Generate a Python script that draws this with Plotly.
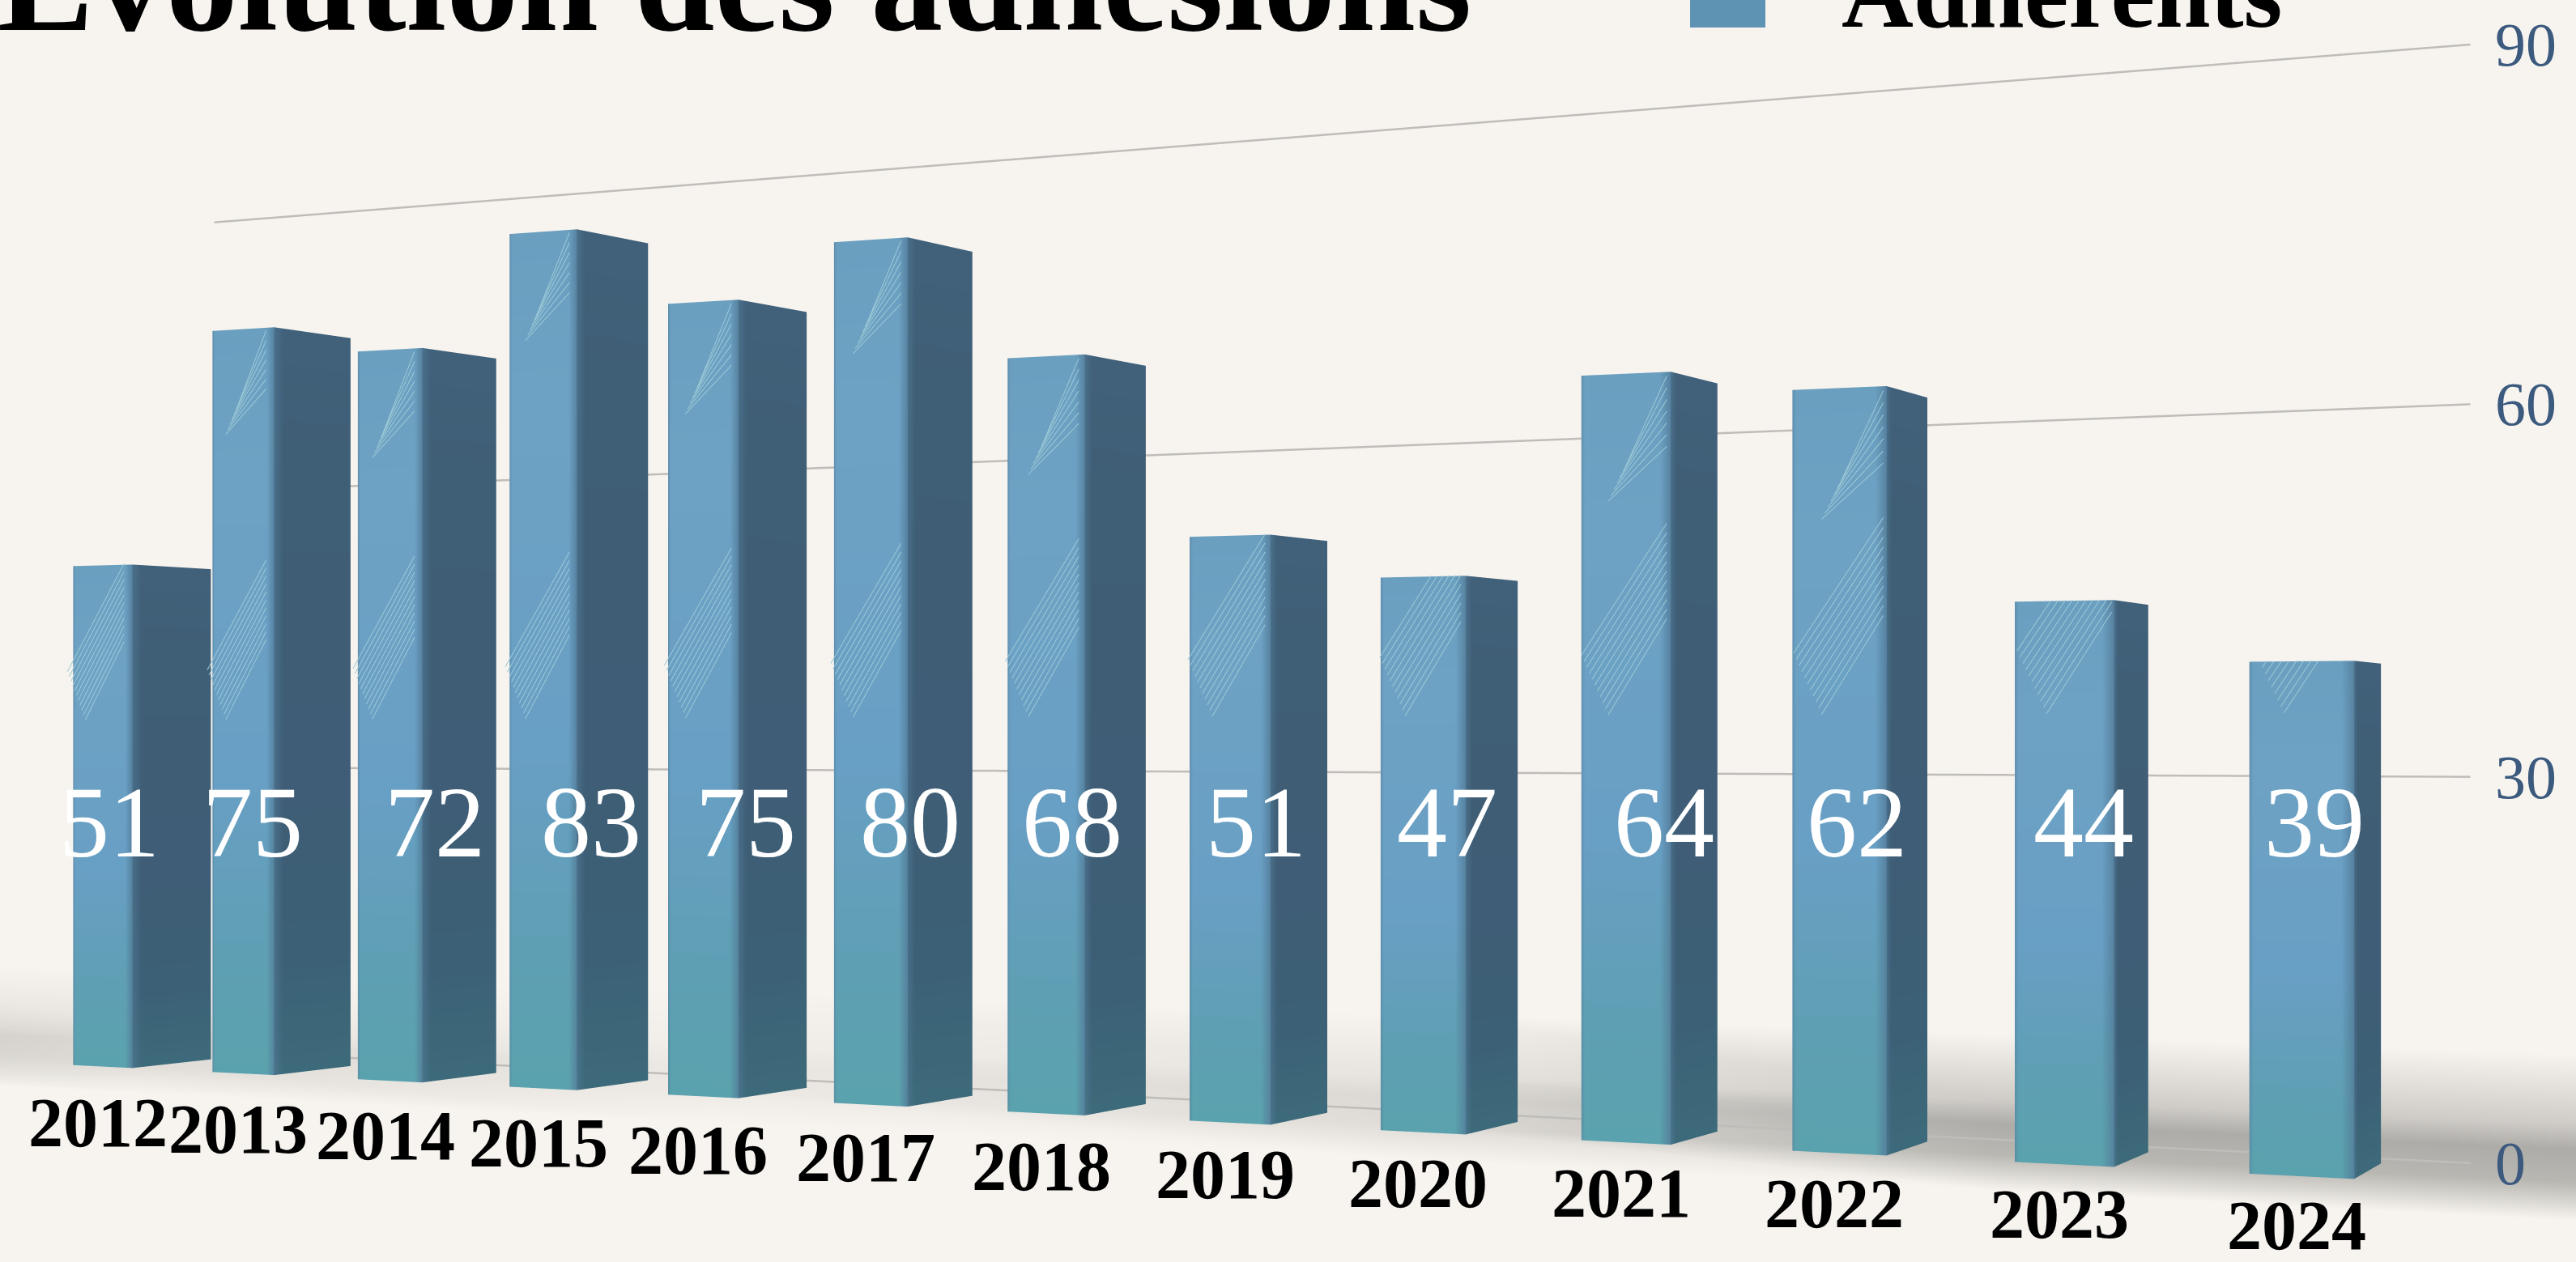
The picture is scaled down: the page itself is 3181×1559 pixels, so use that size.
import math
import plotly.graph_objects as go

# ---------- data ----------
years = ["2012","2013","2014","2015","2016","2017","2018","2019","2020","2021","2022","2023","2024"]
adherents = [51,75,72,83,75,80,68,51,47,64,62,44,39]
y_ticks = [0,30,60,90]
title_text = "Évolution des adhésions"
legend_text = "Adhérents"

# ---------- colours ----------
PAPER = "#f7f4ef"
GRID = "#bfbdb9"
TICK = "#3c5a7e"
FRONT_ROWS = ["#5aa2ad", "#5f9fb4", "#689fc4", "#6ea2c4", "#6a9fc0"]
SIDE_ROWS = ["#3d6a7a", "#3c6076", "#3f5d76", "#3f5f76", "#41607a"]
EDGE = "#557f9c"
STREAK = "#9cc9d6"
ROW_FRACS = [0.0, 0.16, 0.38, 0.8, 1.0]

# ---------- camera model (units: one value unit in the scene) ----------
FOCAL_PX = 1559 / 2 / math.tan(math.pi / 8)     # plotly's fixed 45 degree fov
DEPTH0, DEPTH_STEP = 157.6, 3.25                # distance of first bar, change per category
LEFT0 = -125.3                                  # lateral position of first bar
CAT_DX = 16.66                                  # lateral change per category
EYE_Z = 32.8
HORIZON_PX = 916                                # page row of the horizon
TAN_PITCH = (HORIZON_PX - 1559 / 2) / FOCAL_PX
phi = math.atan2(DEPTH_STEP, CAT_DX)
CAT = math.hypot(DEPTH_STEP, CAT_DX)
cos_p, sin_p = math.cos(phi), math.sin(phi)
eye_cat = (-LEFT0 * cos_p + DEPTH0 * sin_p) / CAT
eye_y = -LEFT0 * sin_p - DEPTH0 * cos_p

X_RANGE, Y_RANGE, Z_RANGE = [-4, 16], [-10, 30], [-20, 100]
UNIT = 0.01
def nx(v): return (v - sum(X_RANGE) / 2) * CAT * UNIT
def ny(v): return (v - sum(Y_RANGE) / 2) * UNIT
def nz(v): return (v - sum(Z_RANGE) / 2) * UNIT

def upright(x, y, z):
    """Keep verticals vertical on the page although the camera looks slightly upwards."""
    lateral = LEFT0 + x * CAT * cos_p + y * sin_p
    depth = DEPTH0 - x * CAT * sin_p + y * cos_p
    shift = lateral * (z - EYE_Z) * TAN_PITCH / depth
    return x + shift * cos_p / CAT, y + shift * sin_p, z

# bar geometry
BAR_W = 0.43        # category units
BAR_SHEAR = 0.245   # category units; back face offset
BAR_D = 5.1
GRID_X = [0.48, 13.09]
GRID_Y = [8.7, 6.6]
SHADOW_Y = 10.0
LABEL_PX = 1015     # vertical page position of the value labels
LABEL_NUDGE = [8, 12, 55, 59, 53, 49, 32, 32, 30, 47, 22, 24, 16]

def hexrgb(c):
    return tuple(int(c[i:i+2], 16) for i in (1, 3, 5))
def mix(a, b, t):
    pa, pb = hexrgb(a), hexrgb(b)
    return "#%02x%02x%02x" % tuple(round(p + (q - p) * t) for p, q in zip(pa, pb))

vx, vy, vz, vc, fi, fj, fk = [], [], [], [], [], [], []
def grid(points, colours):
    """points/colours: rows of columns"""
    base = len(vx)
    nr, nc = len(points), len(points[0])
    for r in range(nr):
        for c in range(nc):
            p = upright(*points[r][c])
            vx.append(p[0]); vy.append(p[1]); vz.append(p[2]); vc.append(colours[r][c])
    for r in range(nr - 1):
        for c in range(nc - 1):
            a = base + r * nc + c
            b, d, e = a + 1, a + nc, a + nc + 1
            fi.extend([a, a]); fj.extend([b, e]); fk.extend([e, d])

st_x, st_y, st_z = [], [], []
def streak(i, v, u0, z0, u1, z1):
    """one light brush line on the front face of bar i, clipped to the bar top"""
    if z0 >= v:
        return
    if z1 > v:
        u1 = u0 + (u1 - u0) * (v - z0) / (z1 - z0)
        z1 = v
    for u, z in ((u0, z0), (u1, z1)):
        p = upright(i + BAR_W * u, -0.6, z)
        st_x.append(p[0]); st_y.append(p[1]); st_z.append(p[2])
    st_x.append(None); st_y.append(None); st_z.append(None)

for i, v in enumerate(adherents):
    x0, x1 = i, i + BAR_W
    # front
    cols = [0.0, 0.04, 0.88, 1.0]
    pts = [[(x0 + (x1 - x0) * u, 0, v * f) for u in cols] for f in ROW_FRACS]
    clr = [[mix(FRONT_ROWS[r], EDGE, 0.5), FRONT_ROWS[r], FRONT_ROWS[r], mix(FRONT_ROWS[r], EDGE, 0.9)]
           for r in range(len(ROW_FRACS))]
    grid(pts, clr)
    # side
    cols = [0.0, 0.12, 1.0]
    pts = [[(x1 + BAR_SHEAR * u, BAR_D * u, v * f) for u in cols] for f in ROW_FRACS]
    clr = [[mix(SIDE_ROWS[r], EDGE, 0.5), SIDE_ROWS[r], SIDE_ROWS[r]] for r in range(len(ROW_FRACS))]
    grid(pts, clr)
    # top
    pts = [[(x0, 0, v), (x1, 0, v)], [(x0 + BAR_SHEAR, BAR_D, v), (x1 + BAR_SHEAR, BAR_D, v)]]
    grid(pts, [["#5e93b4", "#5e93b4"], ["#4d7f9e", "#4d7f9e"]])
    # brush-stroke patch above the V tip
    for k in range(11):
        t = k / 10
        streak(i, v, 0.3 * (1 - t), 35 + 5 * t, 0.95, 43 + 8 * t)
    # brush-stroke patch below the top of tall bars
    if v > 58:
        for k in range(7):
            t = k / 6
            streak(i, v, 0.3 + 0.2 * t, v - 11 + 3 * t, 0.95, v - 6.5 + 6 * t)

bars = go.Mesh3d(x=vx, y=vy, z=vz, i=fi, j=fj, k=fk, vertexcolor=vc, flatshading=False,
                 lighting=dict(ambient=1, diffuse=0, specular=0, roughness=1, fresnel=0),
                 hoverinfo="skip", showscale=False, name=legend_text)
streaks = go.Scatter3d(x=st_x, y=st_y, z=st_z, mode="lines", line=dict(color=STREAK, width=2),
                       hoverinfo="skip", showlegend=False)

# floor shadow: a soft band behind the bars
SHADOW_X = [-4, 0, 4, 8, 11, 16]
SHADOW_K = [0.55, 0.3, 0.12, 0.3, 0.8, 0.8]
SHADOW_Z = [-5.0, -2.0, 0.5, 2.5, 8.0]
SHADOW_P = [0.0, 0.85, 1.0, 0.55, 0.0]
sx, sy, sz, sc, si, sj, sk = [], [], [], [], [], [], []
for a, k in zip(SHADOW_X, SHADOW_K):
    for z, p in zip(SHADOW_Z, SHADOW_P):
        sx.append(a); sy.append(SHADOW_Y); sz.append(z)
        sc.append(mix(PAPER, "#9c9a96", k * p))
nr = len(SHADOW_Z)
for c in range(len(SHADOW_X) - 1):
    for r in range(nr - 1):
        a = c * nr + r
        si.extend([a, a + 1]); sj.extend([a + nr, a + nr]); sk.extend([a + 1, a + nr + 1])
shadow = go.Mesh3d(x=sx, y=sy, z=sz, i=si, j=sj, k=sk, vertexcolor=sc,
                   lighting=dict(ambient=1, diffuse=0, specular=0, roughness=1, fresnel=0),
                   hoverinfo="skip", showscale=False)

grid_x, grid_y, grid_z = [], [], []
for t in y_ticks:
    a = upright(GRID_X[0], GRID_Y[0], t)
    b = upright(GRID_X[1], GRID_Y[1], t)
    grid_x += [a[0], b[0], None]
    grid_y += [a[1], b[1], None]
    grid_z += [t, t, None]
gridlines = go.Scatter3d(x=grid_x, y=grid_y, z=grid_z, mode="lines",
                         line=dict(color=GRID, width=5), hoverinfo="skip", showlegend=False)

annotations3d = []
for t in y_ticks:
    px, py, pz = upright(GRID_X[1], GRID_Y[1], t)
    annotations3d.append(dict(x=px, y=py, z=pz, text=str(t), showarrow=False,
                              xanchor="left", yanchor="middle", xshift=28,
                              font=dict(family="Liberation Serif", size=76, color=TICK)))
for i, (yr, v) in enumerate(zip(years, adherents)):
    depth = DEPTH0 - DEPTH_STEP * i
    z_lab = EYE_Z - (LABEL_PX - HORIZON_PX) * depth / FOCAL_PX
    px, py, pz = upright(i + BAR_W * 0.5, 0, z_lab)
    annotations3d.append(dict(x=px, y=py, z=pz, text=str(v), showarrow=False,
                              xanchor="center", yanchor="middle", xshift=LABEL_NUDGE[i],
                              font=dict(family="Liberation Serif", size=124, color="white")))
    px, py, pz = upright(i + BAR_W * 0.5, 0, 0)
    annotations3d.append(dict(x=px, y=py, z=pz, text=yr, showarrow=False,
                              xanchor="center", yanchor="middle", yshift=-(69 - 0.67 * i), xshift=-6,
                              font=dict(family="Liberation Serif", size=86, color="black", weight="bold")))

fig = go.Figure([shadow, gridlines, bars, streaks])
axis = dict(visible=False, showspikes=False, autorange=False)
look = 130
fig.update_layout(
    width=3181, height=1559, margin=dict(l=0, r=0, t=0, b=0),
    paper_bgcolor=PAPER, plot_bgcolor=PAPER, showlegend=False,
    scene=dict(
        domain=dict(x=[0, 1], y=[0, 1]),
        bgcolor=PAPER,
        xaxis=dict(axis, range=X_RANGE),
        yaxis=dict(axis, range=Y_RANGE),
        zaxis=dict(axis, range=Z_RANGE),
        aspectmode="manual",
        aspectratio=dict(x=(X_RANGE[1] - X_RANGE[0]) * CAT * UNIT,
                         y=(Y_RANGE[1] - Y_RANGE[0]) * UNIT,
                         z=(Z_RANGE[1] - Z_RANGE[0]) * UNIT),
        camera=dict(
            projection=dict(type="perspective"),
            up=dict(x=0, y=0, z=1),
            eye=dict(x=nx(eye_cat), y=ny(eye_y), z=nz(EYE_Z)),
            center=dict(x=nx(eye_cat - look * sin_p / CAT), y=ny(eye_y + look * cos_p),
                        z=nz(EYE_Z + look * TAN_PITCH)),
        ),
        annotations=annotations3d,
    ),
    annotations=[
        dict(xref="paper", yref="paper", x=-5 / 3181, y=1 - 42 / 1559, text=title_text, showarrow=False,
             xanchor="left", yanchor="bottom", yshift=-36,
             font=dict(family="Liberation Serif", size=178, color="black", weight="bold")),
        dict(xref="paper", yref="paper", x=2272 / 3181, y=1 - 38 / 1559, text=legend_text, showarrow=False,
             xanchor="left", yanchor="bottom", yshift=-24,
             font=dict(family="Liberation Serif", size=123, color="black", weight="bold")),
    ],
    shapes=[dict(type="rect", xref="paper", yref="paper", x0=2087 / 3181, x1=2180 / 3181,
                 y0=1 - 34 / 1559, y1=1.0, fillcolor="#5f93b4", line=dict(width=0))],
)
fig.write_html("out.html", config=dict(displayModeBar=False),
               post_script="document.body.style.margin='0';document.body.style.background='%s';document.body.style.overflow='hidden';" % PAPER)
